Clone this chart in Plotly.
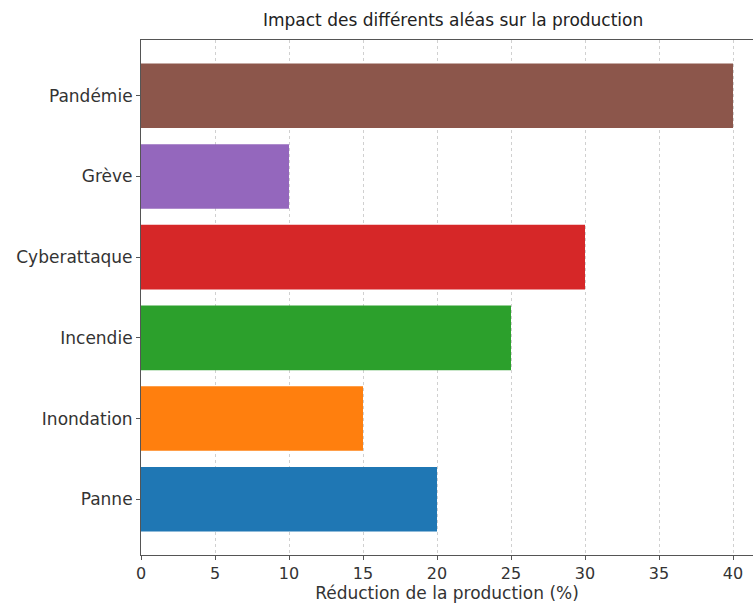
import plotly.graph_objects as go

categories = ["Panne", "Inondation", "Incendie", "Cyberattaque", "Grève", "Pandémie"]
values = [20, 15, 25, 30, 10, 40]
colors = ["#1f77b4", "#ff7f0e", "#2ca02c", "#d62728", "#9467bd", "#8c564b"]
x_ticks = [0, 5, 10, 15, 20, 25, 30, 35, 40]

FONT = "DejaVu Sans"

fig = go.Figure(go.Bar(
    x=values, y=categories, orientation="h",
    marker=dict(color=colors, line=dict(width=0)),
    width=0.8,
))

fig.update_layout(
    width=753, height=606,
    margin=dict(l=141, r=0, t=40, b=51),
    paper_bgcolor="white", plot_bgcolor="white",
    showlegend=False,
    font=dict(family=FONT, color="#333333", size=16),
    title=dict(text="Impact des différents aléas sur la production",
               x=0.51, xanchor="center", xref="paper", y=0.967, yanchor="middle",
               font=dict(family=FONT, size=17, color="#222222")),
    bargap=0.2,
)

fig.update_xaxes(
    range=[0, 41.35], tickvals=x_ticks, ticktext=[str(t) for t in x_ticks],
    showgrid=True, gridcolor="#d0d0d0", griddash="dot", gridwidth=1,
    showline=True, linecolor="#555555", linewidth=1, mirror=True,
    ticks="outside", ticklen=4, tickcolor="#555555",
    tickfont=dict(size=16, color="#333333"),
    title=dict(text="Réduction de la production (%)", font=dict(size=17, color="#333333"), standoff=2),
    zeroline=False,
)
fig.update_yaxes(
    range=[-0.69, 5.69], categoryorder="array", categoryarray=categories,
    showgrid=False, showline=True, linecolor="#555555", linewidth=1, mirror=False,
    ticks="outside", ticklen=4, tickcolor="#555555",
    tickfont=dict(size=17, color="#333333"),
    zeroline=False,
)

fig.write_html(
    "out.html",
    config={"displayModeBar": False},
    post_script="document.body.style.margin='0';document.body.style.overflow='hidden';",
)
